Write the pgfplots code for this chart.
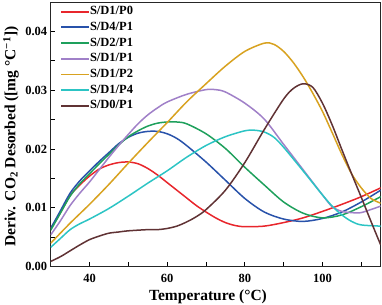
\documentclass[border=0pt]{standalone}
\usepackage{fontspec}
\setmainfont{Liberation Serif}
\usepackage{pgfplots}
\pgfplotsset{compat=1.18}
\definecolor{cRed}{RGB}{232,38,44}
\definecolor{cBlue}{RGB}{40,82,170}
\definecolor{cGreen}{RGB}{30,160,92}
\definecolor{cPurple}{RGB}{160,128,200}
\definecolor{cOrange}{RGB}{216,162,32}
\definecolor{cCyan}{RGB}{44,196,196}
\definecolor{cBrown}{RGB}{96,50,52}
\begin{document}
\begin{tikzpicture}
\begin{axis}[
 width=330bp, height=264.7bp, scale only axis,
 xmin=30, xmax=115, ymin=0, ymax=0.045,
 xtick={40,60,80,100}, minor xtick={30,50,70,90,110},
 ytick={0,0.01,0.02,0.03,0.04}, minor ytick={0.005,0.015,0.025,0.035},
 xtick pos=bottom, ytick pos=left, tick align=inside,
 major tick length=4.5bp, minor tick length=4.5bp,
 every tick/.style={black, line width=0.8bp},
 axis line style={line width=0.9bp, black!85},
 scaled y ticks=false,
 yticklabel style={/pgf/number format/.cd, fixed, fixed zerofill, precision=2},
 /pgf/number format/assume math mode=true,
 ticklabel style={font=\bfseries\fontsize{12.5bp}{15bp}\selectfont},
 xticklabel style={yshift=-4bp},
 xlabel={Temperature (°C)},
 ylabel={Deriv. CO\textsubscript{2} Desorbed ([mg °C\textsuperscript{−1}])},
 label style={font=\bfseries\fontsize{15.5bp}{18bp}\selectfont},
 xlabel style={at={(axis description cs:0.4767,0)}, anchor=north, yshift=-22.8bp, inner sep=0pt},
 ylabel style={at={(axis description cs:-0.1203,0.492)}, anchor=center, inner sep=0pt},
 legend style={at={(axis description cs:0.028,0.985)}, anchor=north west, draw=none, fill=none,
   font=\bfseries\fontsize{12.5bp}{15bp}\selectfont, inner sep=0pt,
   nodes={inner sep=0pt, text height=8.5bp, text depth=2.5bp},
   row sep=4.7bp, /tikz/every even column/.append style={column sep=2.5bp}},
 legend cell align=left,
 legend image code/.code={\draw[#1, line width=1.9bp] (0bp,0bp) -- (28bp,0bp);},
 every axis plot/.append style={line width=1.5bp, smooth, no markers},
]
\addplot[cRed] coordinates {(30,0.0065)(32.5,0.0092)(35,0.0121)(37.5,0.0139)(40,0.0154)(42.5,0.0166)(45,0.0173)(47.5,0.0177)(50,0.0178)(52.5,0.0175)(55,0.0167)(57.5,0.0156)(60,0.0143)(62.5,0.013)(65,0.0117)(67.5,0.0104)(70,0.0093)(72.5,0.0083)(75,0.0075)(77.5,0.007)(80,0.0068)(85,0.0069)(90,0.0075)(95,0.0083)(100,0.0094)(105,0.0106)(110,0.0119)(115,0.0134)};
\addlegendentry{S/D1/P0}
\addplot[cBlue] coordinates {(30,0.0065)(32.5,0.0095)(35,0.0125)(37.5,0.0146)(40,0.0163)(42.5,0.0179)(45,0.0194)(47.5,0.0209)(50,0.022)(52.5,0.0227)(55,0.023)(57.5,0.023)(60,0.0226)(62.5,0.0218)(65,0.0206)(70,0.0178)(75,0.0147)(80,0.0116)(85,0.0093)(90,0.0081)(95,0.0077)(100,0.0082)(105,0.0093)(110,0.011)(115,0.013)};
\addlegendentry{S/D4/P1}
\addplot[cGreen] coordinates {(30,0.0062)(32.5,0.0091)(35,0.012)(37.5,0.0141)(40,0.0158)(42.5,0.0175)(45,0.0191)(47.5,0.0207)(50,0.0221)(52.5,0.0231)(55,0.0239)(57.5,0.0244)(60,0.0246)(62.5,0.0246)(65,0.0243)(70,0.0226)(75,0.0201)(80,0.0169)(85,0.0139)(90,0.011)(95,0.0091)(100,0.0083)(105,0.0088)(110,0.0102)(115,0.0119)};
\addlegendentry{S/D2/P1}
\addplot[cPurple] coordinates {(30,0.0054)(32.5,0.0078)(35,0.0104)(37.5,0.0125)(40,0.0144)(42.5,0.0165)(45,0.0186)(47.5,0.0206)(50,0.0225)(52.5,0.0243)(55,0.0258)(57.5,0.027)(60,0.028)(65,0.0293)(70,0.0301)(72.5,0.0301)(75,0.0297)(80,0.0278)(85,0.0251)(90,0.0208)(95,0.0165)(100,0.0122)(102.5,0.0102)(105,0.0094)(107.5,0.0092)(110,0.0092)(115,0.0103)};
\addlegendentry{S/D1/P1}
\addplot[cOrange] coordinates {(30,0.004)(35,0.0074)(40,0.0106)(45,0.014)(50,0.0176)(55,0.0211)(60,0.0245)(65,0.028)(70,0.0311)(75,0.0341)(80,0.0366)(85,0.038)(87.5,0.0378)(90,0.0366)(92.5,0.0347)(95,0.0323)(97.5,0.0295)(100,0.0264)(102.5,0.0228)(105,0.0191)(107.5,0.0158)(110,0.0134)(112.5,0.0116)(115,0.0108)};
\addlegendentry{S/D1/P2}
\addplot[cCyan] coordinates {(30,0.0033)(32.5,0.0048)(35,0.0063)(37.5,0.0073)(40,0.0081)(45,0.0099)(50,0.012)(55,0.0142)(60,0.0163)(65,0.0186)(70,0.0206)(75,0.0221)(80,0.0231)(82.5,0.0232)(85,0.0229)(87.5,0.022)(90,0.0203)(95,0.0163)(100,0.0122)(102.5,0.0103)(105,0.0088)(107.5,0.0077)(110,0.0071)(115,0.0069)};
\addlegendentry{S/D1/P4}
\addplot[cBrown] coordinates {(30,0.0009)(32.5,0.0017)(35,0.0027)(37.5,0.0037)(40,0.0046)(42.5,0.0052)(45,0.0057)(47.5,0.0059)(50,0.0061)(55,0.0063)(57.5,0.0063)(60,0.0065)(62.5,0.0069)(65,0.0076)(67.5,0.0085)(70,0.0097)(75,0.013)(80,0.0177)(85,0.0233)(90,0.0285)(92.5,0.0303)(95,0.0311)(97.5,0.0305)(100,0.0278)(102.5,0.0241)(105,0.0199)(107.5,0.0158)(110,0.0118)(112.5,0.0077)(115,0.0037)};
\addlegendentry{S/D0/P1}
\end{axis}
\pgfresetboundingbox
\path[use as bounding box] (-50.7bp,-38.3bp) rectangle (331.3bp,266.7bp);
\end{tikzpicture}
\end{document}
